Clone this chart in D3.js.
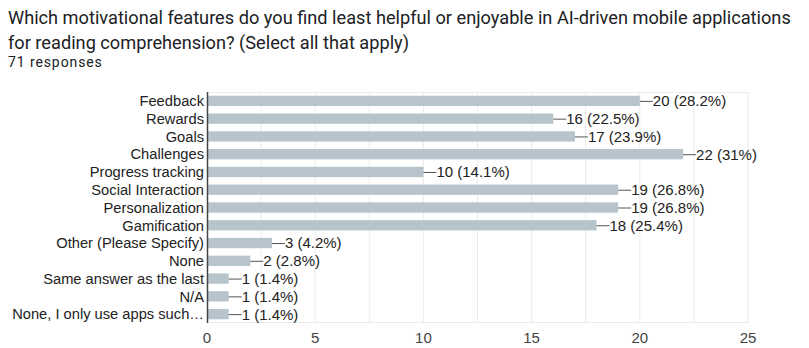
<!DOCTYPE html>
<html>
<head>
<meta charset="utf-8">
<script src="https://cdn.jsdelivr.net/npm/d3@7"></script>
<style>
	body { margin: 0; background: #fff; }
	text { font-family: "Liberation Sans", Arial, sans-serif; }
	.title { font-family: Roboto, "Liberation Sans", sans-serif; font-size: 18.2px; fill: #202124; }
	.sub { font-family: Roboto, "Liberation Sans", sans-serif; font-size: 14px; letter-spacing: 0.9px; fill: #202124; }
</style>
</head>
<body>
<svg id="viz"></svg>
<script>
// answers, top to bottom
const categories = ["Feedback", "Rewards", "Goals", "Challenges", "Progress tracking",
	"Social Interaction", "Personalization", "Gamification", "Other (Please Specify)", "None",
	"Same answer as the last", "N/A", "None, I only use apps such\u2026"];
const counts = [20, 16, 17, 22, 10, 19, 19, 18, 3, 2, 1, 1, 1];
const percents = ["28.2%", "22.5%", "23.9%", "31%", "14.1%", "26.8%", "26.8%", "25.4%", "4.2%", "2.8%", "1.4%", "1.4%", "1.4%"];
const xTicks = [0, 5, 10, 15, 20, 25];

const width = 809;
const height = 348;

const margin = { top: 92, right: 61, bottom: 25, left: 207 };
const plotWidth = width - margin.left - margin.right;
const plotHeight = height - margin.top - margin.bottom;

const data = categories.map((c, i) => ({ cat: c, n: counts[i], pct: percents[i] }));

const svg = d3.select("svg#viz")
	.attr("width", width)
	.attr("height", height);

// title + response count
svg.append("text").attr("class", "title").attr("x", 8).attr("y", 24)
	.text("Which motivational features do you find least helpful or enjoyable in AI-driven mobile applications");
svg.append("text").attr("class", "title").attr("x", 8).attr("y", 49)
	.text("for reading comprehension? (Select all that apply)");
svg.append("text").attr("class", "sub").attr("x", 8).attr("y", 67)
	.text("71 responses");

const plot = svg.append("g").attr("transform", translate(margin.left, margin.top));

const x = d3.scaleLinear().domain([0, 25]).range([0, plotWidth]);
const y = d3.scaleBand().domain(categories).range([0, plotHeight]).paddingInner(0.42).paddingOuter(0.21);

// grid every 2.5
const grid = d3.range(2.5, 25.01, 2.5);
plot.append("g").selectAll("line").data(grid).join("line")
	.attr("x1", d => x(d)).attr("x2", d => x(d))
	.attr("y1", 0).attr("y2", plotHeight)
	.attr("stroke", "#ebebeb").attr("stroke-width", 1);
plot.append("line").attr("x1", 0).attr("x2", plotWidth).attr("y1", 0.5).attr("y2", 0.5)
	.attr("stroke", "#ebebeb");
plot.append("line").attr("x1", 0).attr("x2", plotWidth).attr("y1", plotHeight - 0.5).attr("y2", plotHeight - 0.5)
	.attr("stroke", "#ebebeb");

// bars
plot.append("g").selectAll("rect").data(data).join("rect")
	.attr("x", 0)
	.attr("y", d => y(d.cat))
	.attr("width", d => x(d.n))
	.attr("height", y.bandwidth())
	.attr("fill", "#b7c4cc");

// leader lines + value labels
const lab = plot.append("g").selectAll("g").data(data).join("g")
	.attr("transform", d => translate(x(d.n), y(d.cat) + y.bandwidth() / 2));
lab.append("line").attr("x1", 0).attr("x2", 13).attr("y1", 0.5).attr("y2", 0.5)
	.attr("stroke", "#555").attr("stroke-width", 1);
lab.append("text").attr("x", 13).attr("dy", "0.36em")
	.attr("font-size", 15).attr("fill", "#222")
	.text(d => d.n + " (" + d.pct + ")");

// category labels
plot.append("g").selectAll("text").data(data).join("text")
	.attr("x", -3)
	.attr("y", d => y(d.cat) + y.bandwidth() / 2)
	.attr("dy", "0.36em")
	.attr("text-anchor", "end")
	.attr("font-size", 14.7).attr("fill", "#222")
	.text(d => d.cat);

// baseline axis
plot.append("line").attr("x1", 0.5).attr("x2", 0.5).attr("y1", 0).attr("y2", plotHeight)
	.attr("stroke", "#444").attr("stroke-width", 1.5);

// x tick labels
plot.append("g").selectAll("text").data(xTicks).join("text")
	.attr("x", d => x(d))
	.attr("y", plotHeight + 20)
	.attr("text-anchor", "middle")
	.attr("font-size", 15).attr("fill", "#444")
	.text(d => d);

function translate(x, y) {
	return 'translate(' + x + ',' + y + ')';
}
</script>
</body>
</html>
